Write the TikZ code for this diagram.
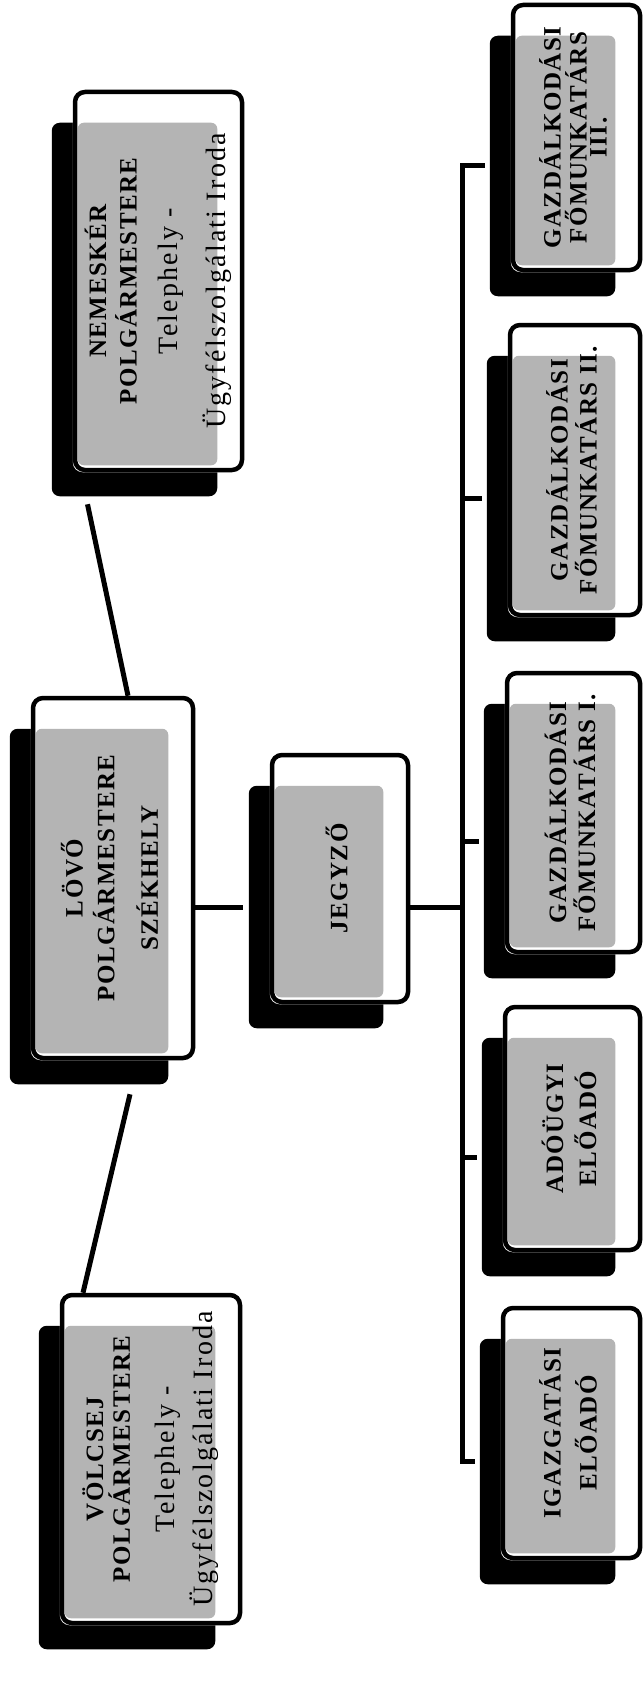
\documentclass[tikz,border=0pt]{standalone}
\usepackage{fontspec}
\setmainfont{Liberation Serif}
\newfontfamily\cardfont[LetterSpace=6]{Liberation Serif}
\newfontfamily\plainfont[LetterSpace=8]{Liberation Serif}
\usepackage{graphicx}
\usetikzlibrary{positioning,fit,backgrounds,calc}
\definecolor{cFill}{HTML}{B4B4B4}
\definecolor{cInk}{HTML}{000000}
\newcommand{\cardtext}[1]{\rotatebox{90}{\begin{tabular}{@{}c@{}}#1\end{tabular}}}
\newcommand{\plainline}{\plainfont\mdseries\fontsize{28}{24}\selectfont}
\tikzset{
  card/.style 2 args={draw=cInk, line width=4.5pt, rounded corners=10pt, inner sep=0pt,
               minimum width=#1, minimum height=#2,
               font=\cardfont\bfseries\fontsize{25}{24}\selectfont},
  cardshadow/.style={inner sep=0pt, outer sep=0pt},
  link/.style={draw=cInk, line width=5pt},
}

\begin{document}
\begin{tikzpicture}[x=1pt, y=-1pt]
\useasboundingbox (0,0) rectangle (643,1699);

% ------------------------------------------------------------------ mayors
\node[card={167pt}{378pt}] (nemesker) at (158.5,281)
  {\cardtext{NEMESKÉR\\[2pt] POLGÁRMESTERE\\[14pt] \plainline Telephely -\\[18pt] \plainline Ügyfélszolgálati Iroda}};
\node[card={160pt}{360pt}] (lovo) at (113,878)
  {\cardtext{LÖVŐ\\[3pt] POLGÁRMESTERE\\[15pt] SZÉKHELY}};
\node[card={178pt}{328pt}] (volcsej) at (151,1459)
  {\cardtext{VÖLCSEJ\\[-2pt] POLGÁRMESTERE\\[18pt] \plainline Telephely -\\[8pt] \plainline Ügyfélszolgálati Iroda}};

% ------------------------------------------------------------------ notary
\node[card={136pt}{247pt}] (jegyzo) at (340,878.5) {\cardtext{JEGYZŐ}};

% ------------------------------------------------------------------ staff
\node[card={127pt}{265pt}] (gazd3)   at (576.5,137.5) {\cardtext{GAZDÁLKODÁSI\\[-3pt] FŐMUNKATÁRS\\[-4pt] III.}};
\node[card={130pt}{290pt}] (gazd2)   at (575,470)     {\cardtext{GAZDÁLKODÁSI\\ FŐMUNKATÁRS II.}};
\node[card={133pt}{279pt}] (gazd1)   at (573.5,812.5) {\cardtext{GAZDÁLKODÁSI\\ FŐMUNKATÁRS I.}};
\node[card={135pt}{243pt}] (adougyi) at (572.5,1128.5) {\cardtext{ADÓÜGYI\\[4pt] ELŐADÓ}};
\node[card={137pt}{250pt}] (igazg)   at (571.5,1433)  {\cardtext{IGAZGATÁSI\\[7pt] ELŐADÓ}};

% shadow area of every card (offset down and to the left)
\foreach \n in {nemesker,lovo,volcsej,jegyzo,gazd3,gazd2,gazd1,adougyi,igazg} {
  \path (\n.north west) ++(-21,33) coordinate (\n-a)
        (\n.south east) ++(-27,24) coordinate (\n-b);
  \node[cardshadow, fit=(\n-a)(\n-b)] (\n-s) {};
}

% shadow, white face and grey panel behind every card
\begin{scope}[on background layer]
  \foreach \n in {nemesker,lovo,volcsej,jegyzo,gazd3,gazd2,gazd1,adougyi,igazg} {
    \fill[cInk, rounded corners=8pt] (\n-s.north west) rectangle (\n-s.south east);
    \fill[white, rounded corners=10pt] (\n.north west) rectangle (\n.south east);
    \fill[cFill, rounded corners=6pt] ($(\n.north west)+(5,33)$) rectangle ($(\n-s.east |- \n.south)+(0,-7)$);
  }
\end{scope}

% ------------------------------------------------------------------ connectors
\draw[link] ([shift={(-47,8)}]nemesker-s.south) -- ([xshift=15pt]lovo.north);
\draw[link] ([shift={(41,10)}]lovo-s.south) -- ([xshift=-68pt]volcsej.north);
\draw[link, shorten >=6pt] (lovo.east |- jegyzo-s.west) -- (jegyzo-s.west);

% bracket to the staff
\coordinate (bus top) at ([xshift=-27pt]gazd3-s.west);
\coordinate (bus bot) at (bus top |- igazg-s.west);
\draw[link] (jegyzo.east |- jegyzo-s.west) -- (bus top |- jegyzo-s.west);
\draw[link, line join=miter] ([xshift=-5pt]gazd3-s.west) -- (bus top) -- (bus bot) -- ([xshift=-5pt]igazg-s.west);
\foreach \n in {gazd2,gazd1,adougyi}
  \draw[link] (bus top |- \n-s.west) -- ([xshift=-5pt]\n-s.west);

\end{tikzpicture}
\end{document}
